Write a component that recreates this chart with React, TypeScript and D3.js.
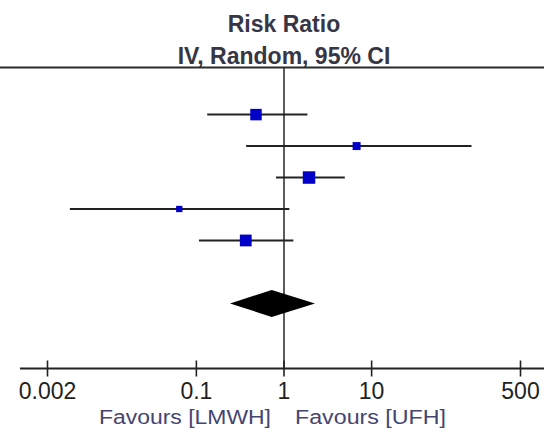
import * as d3 from "d3";
import React from "react";

// study rows (names are cropped out of the picture)
const studies = ["Study 1", "Study 2", "Study 3", "Study 4", "Study 5"];
const riskRatio = [0.479, 6.74, 1.93, 0.0638, 0.366];
const lowerCI = [0.133, 0.37, 0.81, 0.0036, 0.107];
const upperCI = [1.85, 138, 4.94, 1.15, 1.28];
const weights = [24.9, 12.0, 29.4, 7.5, 26.2];

// pooled estimate
const pooled = {rr: 0.724, lo: 0.242, hi: 2.26};

const tickValues = [0.002, 0.1, 1, 10, 500];
const tickLabels = ["0.002", "0.1", "1", "10", "500"];

const W = 544;
const H = 432;
const font = "'Liberation Sans', Arial, sans-serif";

const App = () => {
    const x = d3.scaleLog().domain([0.002, 500]).range([47.5, 520.5]);
    // rows 0..4 are studies, 5 blank, 6 the total
    const y = d3.scaleLinear().domain([0, 6]).range([114.6, 303.4]);
    const side = d3.scaleSqrt().domain([0, 100]).range([0, 23]);

    const axisY = 368.5;
    const topY = 67.5;
    const x1 = x(1);

    const diamond = [
        [x(pooled.lo), y(6)],
        [x(pooled.rr), y(6) - 13.5],
        [x(pooled.hi), y(6)],
        [x(pooled.rr), y(6) + 13.5],
    ];

    return (
        <svg width={W} height={H} style={{position: "absolute", left: 0, top: 0, background: "#fff"}}
             fontFamily={font}>
            <text x={284} y={32} textAnchor="middle" fontSize={23} fontWeight="bold" fill="#363645">Risk Ratio</text>
            <text x={284} y={64} textAnchor="middle" fontSize={23} fontWeight="bold" fill="#363645">IV, Random, 95% CI</text>
            <line x1={0} x2={W} y1={topY} y2={topY} stroke="#2a2a2a" strokeWidth={2}/>

            <line x1={x1} x2={x1} y1={topY} y2={axisY} stroke="#333" strokeWidth={1.6}/>

            {studies.map((s, i) => {
                const cy = y(i);
                const sz = side(weights[i]);
                return (
                    <g key={s}>
                        <line x1={x(lowerCI[i])} x2={x(upperCI[i])} y1={cy} y2={cy} stroke="#222" strokeWidth={2}/>
                        <rect x={x(riskRatio[i]) - sz / 2} y={cy - sz / 2} width={sz} height={sz} fill="#0000c8"/>
                    </g>
                );
            })}

            <polygon points={diamond.map(p => p.join(",")).join(" ")} fill="#000"/>

            <line x1={20} x2={W} y1={axisY} y2={axisY} stroke="#222" strokeWidth={2}/>
            {tickValues.map((t, i) => (
                <g key={t} transform={`translate(${x(t)},0)`}>
                    <line y1={axisY - 8} y2={axisY + 8} stroke="#222" strokeWidth={1.6}/>
                    <text y={398.5} textAnchor="middle" fontSize={23} fill="#222">{tickLabels[i]}</text>
                </g>
            ))}

            <text x={99} y={424} fontSize={20} fill="#45456f" textLength={172}
                  lengthAdjust="spacingAndGlyphs">Favours [LMWH]</text>
            <text x={295} y={424} fontSize={20} fill="#45456f" textLength={151}
                  lengthAdjust="spacingAndGlyphs">Favours [UFH]</text>
        </svg>
    );
};

export default App;
